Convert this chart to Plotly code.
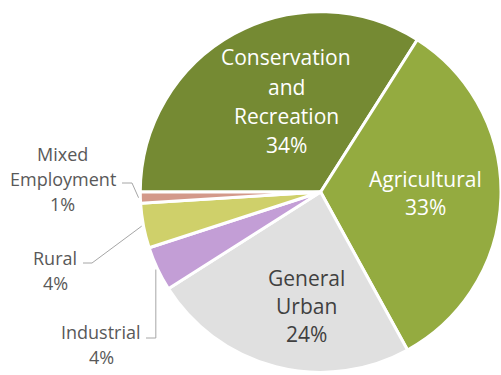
import math
import plotly.graph_objects as go

# Land-use shares (percent of total area)
categories = ["Conservation and Recreation", "Agricultural", "General Urban",
              "Industrial", "Rural", "Mixed Employment"]
shares = [34, 33, 24, 4, 4, 1]
# Wrapped names used for the slice labels
label_lines = [["Conservation", "and", "Recreation"], ["Agricultural"],
               ["General", "Urban"], ["Industrial"], ["Rural"],
               ["Mixed", "Employment"]]

colors = ["#758A33", "#94AB40", "#E0E0E0", "#C39ED6", "#CFD06A", "#D3998A"]

W, H = 501, 375
DOM_X = [0.28, 1.0]
DOM_Y = [0.0, 0.976]
START_DEG = -90  # first slice begins at 9 o'clock

total = sum(shares)
pct = [round(100 * v / total) for v in shares]

fig = go.Figure(go.Pie(
    labels=categories,
    values=shares,
    sort=False,
    direction="clockwise",
    rotation=START_DEG,
    textinfo="none",
    marker=dict(colors=colors, line=dict(color="white", width=3)),
    domain=dict(x=DOM_X, y=DOM_Y),
    showlegend=False,
    hoverinfo="label+percent",
))

# Pie geometry in pixels (used to anchor the leader lines on the slices)
pw = (DOM_X[1] - DOM_X[0]) * W
ph = (DOM_Y[1] - DOM_Y[0]) * H
r = min(pw, ph) / 2
cx = DOM_X[0] * W + pw / 2
cy = H - (DOM_Y[0] * H + ph / 2)


def slice_edge(i, k=1.01):
    before = sum(shares[:i])
    mid = START_DEG + 360 * (before + shares[i] / 2) / total
    a = math.radians(mid)
    return cx + k * r * math.sin(a), cy - k * r * math.cos(a)


def px(x, y):
    return x / W, 1 - y / H


def add_label(i, x, y_first, step, size, color):
    """Stack the slice name lines and its percentage, one line per annotation."""
    lines = label_lines[i] + [f"{pct[i]}%"]
    for k, line in enumerate(lines):
        ax, ay = px(x, y_first + k * step)
        fig.add_annotation(
            x=ax, y=ay, xref="paper", yref="paper",
            xanchor="center", yanchor="middle", showarrow=False,
            text=line, font=dict(family="Open Sans", size=size, color=color),
        )


# Labels on the large slices
add_label(0, 286, 57.5, 29.3, 21, "white")
add_label(1, 425, 178.5, 28.0, 21, "white")
add_label(2, 306, 277.5, 28.3, 21, "#404040")

# Small slices: label outside with an elbow leader line
outside = {
    5: dict(center_x=63, first_y=153.5, start=(122, 183), elbow_x=132),
    4: dict(center_x=55, first_y=257.5, start=(83, 263), elbow_x=92),
    3: dict(center_x=101, first_y=332, start=(146, 338), elbow_x=None),
}

for i, spec in outside.items():
    ex, ey = slice_edge(i)
    sx, sy = spec["start"]
    bx = spec["elbow_x"] if spec["elbow_x"] is not None else ex
    pts = [px(sx, sy), px(bx, sy), px(ex, ey)]
    path = "M {} {} L {} {} L {} {}".format(*[c for p in pts for c in p])
    fig.add_shape(type="path", path=path, xref="paper", yref="paper",
                  line=dict(color="#A6A6A6", width=1))
    add_label(i, spec["center_x"], spec["first_y"], 25.4, 18, "#595959")

fig.update_layout(
    width=W, height=H,
    margin=dict(l=0, r=0, t=0, b=0),
    paper_bgcolor="white", plot_bgcolor="white",
)

fig.write_html("out.html")
